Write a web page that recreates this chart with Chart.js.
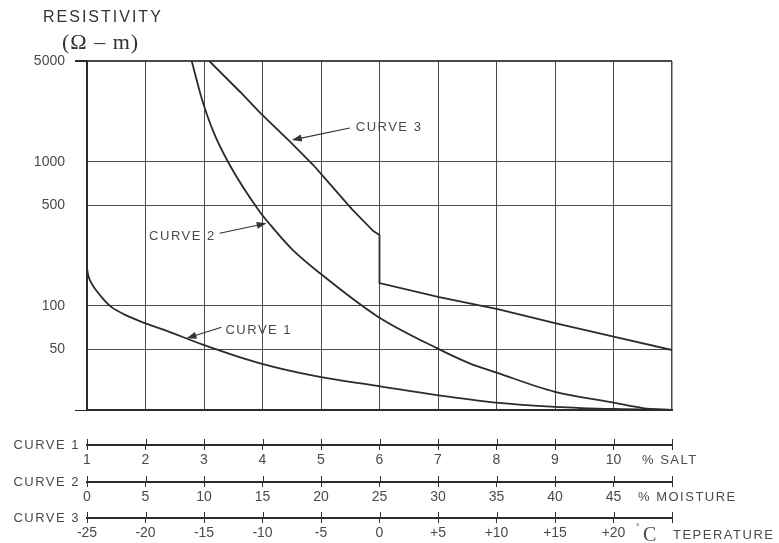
<!DOCTYPE html>
<html>
<head>
<meta charset="utf-8">
<title>Resistivity vs salt, moisture and temperature</title>
<script src="https://cdn.jsdelivr.net/npm/chart.js@4.4.1/dist/chart.umd.min.js"></script>
<style>
  html, body { margin: 0; padding: 0; background: #fff; }
  #wrap { width: 779px; height: 543px; position: relative; }
</style>
</head>
<body>
<div id="wrap"><canvas id="soilChart"></canvas></div>
<script>
// labelled ticks on the resistivity scale (ohm-m), bottom of the scale is unlabelled
var resistivityTicks = [50, 100, 500, 1000, 5000];
var resistivityMin = 19;

// curve 1 : resistivity against % salt
var curve1Salt = [1.0, 1.02, 1.05, 1.14, 1.26, 1.41, 1.70, 1.99, 2.33, 2.98, 3.96, 4.98, 5.96, 6.98, 7.99, 9.0, 10.03, 11];
var curve1Res  = [183, 164, 151, 131, 114, 99, 85, 76, 68, 54, 40, 32.2, 27.9, 24.1, 21.4, 20, 19.3, 19];

// curve 2 : resistivity against % moisture
var curve2Moisture = [8.95, 9.8, 10.8, 12.2, 14.7, 15.8, 17.6, 19.9, 24.8, 29.9, 32.7, 35.0, 40.0, 45.1, 47.5, 50];
var curve2Res      = [5000, 2756, 1617, 950, 458, 355, 244, 169, 85, 51, 40, 34.5, 25.4, 21.3, 19.6, 19];

// curve 3 : resistivity against temperature (C), drops sharply at freezing
var curve3Temp = [-14.55, -11.9, -10.2, -7.65, -5.66, -4.23, -2.38, -0.53, 0, 0, 5.1, 10.1, 15, 20.1, 25];
var curve3Res  = [5000, 3048, 2180, 1378, 950, 701, 471, 331, 311, 144, 115, 95, 76, 61, 49.5];

// bottom scale ranges
var saltRange = [1, 11];
var moistureRange = [0, 50];
var tempRange = [-25, 25];

var FONT = "'Liberation Sans', Arial, sans-serif";
var SERIF = "'Liberation Serif', 'Times New Roman', serif";
var INK = '#2b2b2b';
var TEXT = '#4a4a4a';

Chart.defaults.font.family = FONT;

function toPoints(xs, ys) {
    var out = [];
    for (var i = 0; i < xs.length; i++) out.push({ x: xs[i], y: ys[i] });
    return out;
}

function bottomScale(range, step, weight, height, fmt) {
    return {
        type: 'linear',
        position: 'bottom',
        weight: weight,
        min: range[0],
        max: range[1],
        grid: { display: true, drawOnChartArea: false, drawTicks: true, tickLength: 5, color: '#333', lineWidth: 1 },
        border: { display: true, color: INK, width: 2 },
        ticks: {
            stepSize: step,
            autoSkip: false,
            maxRotation: 0,
            padding: 2,
            color: TEXT,
            font: { size: 14 },
            callback: fmt
        },
        afterFit: function(scale) { scale.height = height; }
    };
}

function drawArrow(ctx, x1, y1, x2, y2) {
    var ang = Math.atan2(y2 - y1, x2 - x1);
    ctx.beginPath();
    ctx.moveTo(x1, y1);
    ctx.lineTo(x2 - 6 * Math.cos(ang), y2 - 6 * Math.sin(ang));
    ctx.stroke();
    ctx.beginPath();
    ctx.moveTo(x2, y2);
    ctx.lineTo(x2 - 10 * Math.cos(ang) + 3.5 * Math.sin(ang), y2 - 10 * Math.sin(ang) - 3.5 * Math.cos(ang));
    ctx.lineTo(x2 - 10 * Math.cos(ang) - 3.5 * Math.sin(ang), y2 - 10 * Math.sin(ang) + 3.5 * Math.cos(ang));
    ctx.closePath();
    ctx.fill();
}

// texts, callouts and the crossing tick marks of the three bottom scales
var extrasPlugin = {
    id: 'extras',
    afterDraw: function(chart) {
        var ctx = chart.ctx;
        var y = chart.scales.y;
        ctx.save();

        // tick marks also reach above each bottom scale line
        ['xs', 'xm', 'xt'].forEach(function(id) {
            var sc = chart.scales[id];
            ctx.strokeStyle = '#333';
            ctx.lineWidth = 1;
            sc.ticks.forEach(function(t) {
                var px = Math.round(sc.getPixelForValue(t.value)) + 0.5;
                ctx.beginPath();
                ctx.moveTo(px, sc.top - 6);
                ctx.lineTo(px, sc.top);
                ctx.stroke();
            });
        });

        ctx.fillStyle = TEXT;
        ctx.letterSpacing = '1.5px';
        ctx.font = '13px ' + FONT;
        ctx.textBaseline = 'middle';

        // scale names on the left
        ctx.textAlign = 'right';
        ctx.fillText('CURVE 1', 80, chart.scales.xs.top);
        ctx.fillText('CURVE 2', 80, chart.scales.xm.top);
        ctx.fillText('CURVE 3', 80, chart.scales.xt.top);

        // units on the right
        ctx.textAlign = 'left';
        ctx.letterSpacing = '1.5px';
        ctx.font = '13px ' + FONT;
        ctx.fillText('% SALT', 642, chart.scales.xs.top + 15);
        ctx.fillText('% MOISTURE', 638, chart.scales.xm.top + 15);
        ctx.fillText('TEPERATURE', 673, chart.scales.xt.top + 17);
        ctx.letterSpacing = '0px';
        ctx.font = '20px ' + SERIF;
        ctx.fillText('C', 643, chart.scales.xt.top + 18);
        ctx.font = '9px ' + FONT;
        ctx.fillText('°', 636, chart.scales.xt.top + 10);

        // axis title
        ctx.letterSpacing = '2px';
        ctx.font = '16px ' + FONT;
        ctx.fillStyle = '#333';
        ctx.fillText('RESISTIVITY', 43, 18);
        ctx.letterSpacing = '1px';
        ctx.font = '22px ' + SERIF;
        ctx.fillText('(\u03A9 \u2013 m)', 62, 43);

        // callouts
        ctx.letterSpacing = '0px';
        ctx.strokeStyle = '#333';
        ctx.fillStyle = '#333';
        ctx.lineWidth = 1.2;
        var t3x = chart.scales.xt.getPixelForValue(-7.5), t3y = y.getPixelForValue(1416);
        drawArrow(ctx, t3x + 58, t3y - 12, t3x, t3y);
        var t2x = chart.scales.xm.getPixelForValue(15.36), t2y = y.getPixelForValue(375);
        drawArrow(ctx, t2x - 47, t2y + 10, t2x, t2y);
        var t1x = chart.scales.xs.getPixelForValue(2.7), t1y = y.getPixelForValue(59.7);
        drawArrow(ctx, t1x + 35, t1y - 11, t1x, t1y);

        ctx.fillStyle = TEXT;
        ctx.letterSpacing = '1.5px';
        ctx.font = '13px ' + FONT;
        ctx.textAlign = 'left';
        ctx.fillText('CURVE 3', t3x + 64, t3y - 13);
        ctx.fillText('CURVE 1', t1x + 39, t1y - 8);
        ctx.textAlign = 'right';
        ctx.fillText('CURVE 2', t2x - 51, t2y + 13);

        ctx.restore();
    }
};

var lineStyle = {
    showLine: true,
    borderColor: INK,
    borderWidth: 1.8,
    pointRadius: 0,
    fill: false
};

new Chart(document.getElementById('soilChart'), {
    type: 'scatter',
    data: {
        datasets: [
            Object.assign({ label: 'Curve 1', data: toPoints(curve1Salt, curve1Res), xAxisID: 'xs', cubicInterpolationMode: 'monotone' }, lineStyle),
            Object.assign({ label: 'Curve 2', data: toPoints(curve2Moisture, curve2Res), xAxisID: 'xm', cubicInterpolationMode: 'monotone' }, lineStyle),
            Object.assign({ label: 'Curve 3', data: toPoints(curve3Temp, curve3Res), xAxisID: 'xt', tension: 0 }, lineStyle)
        ]
    },
    options: {
        responsive: true,
        maintainAspectRatio: false,
        animation: false,
        layout: { padding: { top: 61, right: 107, left: 0, bottom: 0 } },
        plugins: { legend: { display: false }, tooltip: { enabled: false } },
        scales: {
            x: {
                type: 'linear',
                position: 'bottom',
                weight: 0,
                min: saltRange[0],
                max: saltRange[1],
                grid: {
                    color: '#4a4a4a',
                    lineWidth: function(c) { return c.tick && c.tick.value === saltRange[1] ? 1.5 : 1; },
                    drawTicks: false
                },
                border: { display: true, color: INK, width: 2 },
                ticks: { display: false, stepSize: 1 },
                afterFit: function(scale) { scale.height = 35; }
            },
            xs: bottomScale(saltRange, 1, 1, 37, function(v) { return v === saltRange[1] ? '' : String(v); }),
            xm: bottomScale(moistureRange, 5, 2, 36, function(v) { return v === moistureRange[1] ? '' : String(v); }),
            xt: bottomScale(tempRange, 5, 3, 25, function(v) {
                if (v === tempRange[1]) return '';
                return v > 0 ? '+' + v : String(v);
            }),
            y: {
                type: 'logarithmic',
                position: 'left',
                min: resistivityMin,
                max: 5000,
                afterBuildTicks: function(scale) {
                    scale.ticks = [resistivityMin].concat(resistivityTicks).map(function(v) { return { value: v }; });
                },
                grid: {
                    color: '#4a4a4a',
                    lineWidth: function(c) { return c.tick && c.tick.value === 5000 ? 2 : 1; },
                    tickLength: 12,
                    tickColor: function(c) {
                        return c.tick && (c.tick.value === 5000 || c.tick.value === resistivityMin) ? INK : 'rgba(0,0,0,0)';
                    }
                },
                border: { display: true, color: INK, width: 2 },
                ticks: {
                    padding: 10,
                    color: TEXT,
                    font: { size: 14 },
                    autoSkip: false,
                    callback: function(v) { return v === resistivityMin ? '' : String(v); }
                },
                afterFit: function(scale) { scale.width = 87; }
            }
        }
    },
    plugins: [extrasPlugin]
});
</script>
</body>
</html>
